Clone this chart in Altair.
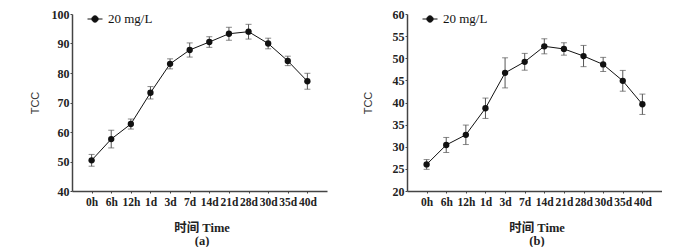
import altair as alt
import pandas as pd

categories = ["0h", "6h", "12h", "1d", "3d", "7d", "14d", "21d", "28d", "30d", "35d", "40d"]
series_name = "20 mg/L"

mean_a = [50.4, 57.6, 62.7, 73.3, 83.1, 87.8, 90.5, 93.3, 94.0, 90.0, 84.1, 77.2]
err_a = [2.0, 3.0, 1.7, 2.1, 1.7, 2.4, 1.8, 2.2, 2.5, 1.8, 1.6, 2.7]
ticks_a = [40, 50, 60, 70, 80, 90, 100]

mean_b = [26.0, 30.4, 32.7, 38.7, 46.7, 49.2, 52.7, 52.1, 50.5, 48.6, 44.9, 39.6]
err_b = [1.1, 1.7, 2.2, 2.3, 3.4, 1.9, 1.7, 1.4, 2.4, 1.6, 2.35, 2.3]
ticks_b = [20, 25, 30, 35, 40, 45, 50, 55, 60]

SERIF = "Liberation Serif, Noto Sans CJK SC, serif"
SANS = "Liberation Sans, Arial, sans-serif"
W, H = 255, 177
LEGEND_PATH = ("M-1,0L1,0M-0.42,0A0.42,0.42,0,1,1,0.42,0"
               "A0.42,0.42,0,1,1,-0.42,0Z")


def panel(mean, err, ticks, letter, title_x):
    df = pd.DataFrame({
        "time": categories,
        "tcc": mean,
        "lo": [m - e for m, e in zip(mean, err)],
        "hi": [m + e for m, e in zip(mean, err)],
        "series": series_name,
    })
    x = alt.X(
        "time:N", sort=categories,
        scale=alt.Scale(type="point", padding=1),
        axis=alt.Axis(
            title=["时间 Time", f"({letter})"], labelAngle=0,
            labelFont=SERIF, labelFontSize=11.5, labelFontWeight="bold",
            labelColor="#222", labelPadding=3, tickSize=2,
            titleFont=SERIF, titleFontSize=12.5, titleFontWeight="bold",
            titleColor="#222", titleLineHeight=13, titleBaseline="top",
            titleY=30, titleX=W / 2 + 2,
        ),
    )
    yscale = alt.Scale(domain=[ticks[0], ticks[-1]], nice=False, zero=False)
    yaxis = alt.Axis(
        title="TCC", values=ticks, grid=False,
        labelFont=SERIF, labelFontSize=12, labelFontWeight="bold",
        labelColor="#222", labelPadding=1, tickSize=2,
        titleFont=SANS, titleFontSize=11, titleFontWeight="normal",
        titleColor="#333", titleX=title_x, titleY=H / 2,
        titleBaseline="middle",
    )
    base = alt.Chart(df).encode(x=x)
    rules = base.mark_rule(color="#555", strokeWidth=1).encode(
        y=alt.Y("lo:Q", scale=yscale, axis=yaxis), y2="hi:Q")
    cap_lo = base.mark_tick(color="#555", size=6, thickness=1).encode(
        y=alt.Y("lo:Q", scale=yscale, axis=yaxis))
    cap_hi = base.mark_tick(color="#555", size=6, thickness=1).encode(
        y=alt.Y("hi:Q", scale=yscale, axis=yaxis))
    line = base.mark_line(strokeWidth=1).encode(
        y=alt.Y("tcc:Q", scale=yscale, axis=yaxis),
        color=alt.Color(
            "series:N", scale=alt.Scale(range=["#111"]),
            legend=alt.Legend(
                title=None, orient="none", legendX=15, legendY=-3,
                padding=0, symbolType=LEGEND_PATH, symbolSize=225,
                symbolStrokeWidth=1, symbolFillColor="#111",
                labelFont=SERIF, labelFontSize=13, labelColor="#111",
                labelOffset=5,
            ),
        ),
    )
    pts = base.mark_point(filled=True, size=40, color="#111", opacity=1).encode(
        y=alt.Y("tcc:Q", scale=yscale, axis=yaxis))
    return alt.layer(rules, cap_lo, cap_hi, line, pts).properties(width=W, height=H)


pa = panel(mean_a, err_a, ticks_a, "a", -37)
pb = panel(mean_b, err_b, ticks_b, "b", -39)

chart = alt.hconcat(pa, pb, spacing=35).resolve_scale(
    color="independent", y="independent", x="independent"
).properties(
    padding={"left": 21, "top": 0, "right": 0, "bottom": 0},
    background="white",
).configure_view(stroke=None).configure_axis(
    domainColor="#444", domainWidth=1.5, tickColor="#444", grid=False
)

chart.save("out.html", embed_options={"renderer": "svg", "actions": False})
